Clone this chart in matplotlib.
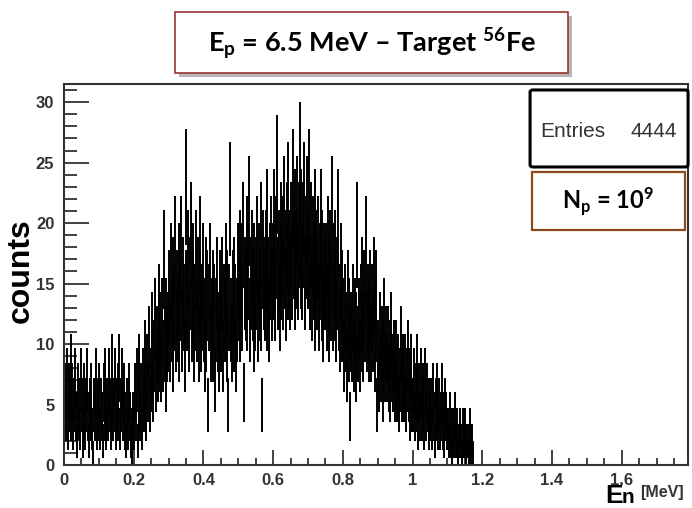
import numpy as np
import matplotlib
matplotlib.use("Agg")
import matplotlib.pyplot as plt
from matplotlib.patches import FancyBboxPatch
import matplotlib.patheffects as pe
from matplotlib.ticker import MultipleLocator

# bin width of the neutron energy histogram (MeV)
BIN_W = 0.0025

# counts per bin, from 0 MeV upwards
# (each row covers 0.025 MeV, the row start is in the comment)
counts = [
    9, 6, 4, 7, 3, 6, 5, 8, 4, 6,        # 0.000
    3, 5, 7, 4, 2, 6, 4, 5, 3, 7,        # 0.025
    5, 2, 4, 6, 3, 5, 7, 4, 2, 5,        # 0.050
    4, 6, 3, 1, 5, 4, 7, 3, 5, 4,        # 0.075
    6, 3, 5, 4, 2, 6, 4, 7, 3, 5,        # 0.100
    4, 7, 5, 3, 6, 8, 4, 5, 7, 3,        # 0.125
    5, 4, 6, 8, 3, 5, 7, 4, 6, 3,        # 0.150
    4, 2, 5, 3, 6, 4, 2, 3, 1, 4,        # 0.175
    3, 6, 4, 7, 2, 5, 8, 4, 6, 3,        # 0.200
    7, 5, 9, 6, 4, 8, 6, 10, 5, 7,       # 0.225
    8, 11, 6, 9, 12, 7, 10, 8, 13, 9,    # 0.250
    11, 8, 12, 9, 17, 10, 7, 12, 10, 11, # 0.275
    14, 10, 16, 12, 9, 15, 13, 18, 11, 14, # 0.300
    12, 16, 10, 14, 18, 11, 15, 13, 9, 14, # 0.325
    23, 13, 17, 11, 15, 19, 12, 14, 16, 10, # 0.350
    13, 17, 12, 15, 10, 14, 18, 11, 13, 16, # 0.375
    12, 9, 15, 11, 14, 5, 13, 16, 10, 12,  # 0.400
    14, 10, 13, 7, 12, 15, 11, 9, 14, 12,  # 0.425
    11, 15, 9, 13, 12, 16, 10, 14, 5, 13,  # 0.450
    22, 12, 10, 14, 11, 15, 13, 9, 12, 16, # 0.475
    14, 17, 12, 16, 13, 19, 6, 15, 14, 18, # 0.500
    13, 16, 21, 12, 15, 17, 14, 11, 16, 13, # 0.525
    15, 18, 12, 16, 14, 19, 13, 5, 17, 15, # 0.550
    14, 17, 13, 20, 15, 12, 16, 18, 14, 16, # 0.575
    16, 20, 14, 18, 24, 15, 17, 13, 19, 16, # 0.600
    18, 15, 21, 17, 14, 19, 16, 22, 17, 15, # 0.625
    19, 16, 23, 18, 15, 20, 17, 21, 16, 19, # 0.650
    25, 17, 20, 16, 19, 22, 15, 18, 21, 17, # 0.675
    17, 23, 15, 19, 14, 18, 16, 20, 13, 17, # 0.700
    15, 18, 13, 16, 20, 14, 17, 12, 16, 15, # 0.725
    16, 13, 18, 15, 12, 17, 14, 21, 13, 16, # 0.750
    14, 17, 12, 15, 20, 13, 11, 16, 14, 12, # 0.775
    12, 9, 13, 11, 8, 14, 10, 12, 4, 11,   # 0.800
    10, 13, 9, 12, 11, 8, 19, 10, 12, 9,   # 0.825
    13, 11, 15, 10, 14, 12, 18, 11, 13, 10, # 0.850
    12, 14, 10, 13, 11, 15, 9, 12, 14, 5,  # 0.875
    9, 7, 11, 8, 10, 6, 9, 12, 8, 10,      # 0.900
    8, 10, 7, 9, 6, 11, 8, 7, 9, 6,        # 0.925
    7, 9, 6, 8, 5, 7, 10, 6, 8, 7,         # 0.950
    6, 8, 5, 7, 9, 6, 4, 7, 8, 5,          # 0.975
    5, 7, 4, 6, 8, 5, 3, 6, 4, 7,          # 1.000
    4, 6, 5, 3, 7, 4, 6, 5, 3, 5,          # 1.025
    4, 5, 3, 6, 4, 2, 5, 4, 6, 3,          # 1.050
    5, 3, 4, 6, 3, 4, 2, 5, 4, 3,          # 1.075
    3, 2, 4, 2, 3, 1, 3, 2, 4, 2,          # 1.100
    2, 3, 1, 2, 3, 2, 1, 3, 2, 2,          # 1.125
    3, 1, 2, 2, 1, 3, 2, 1, 2, 1,          # 1.150
]

title_text = r"E$_{p}$ = 6.5 MeV – Target $^{56}$Fe"
entries_label = "Entries"
entries_value = "4444"
np_text = r"N$_{p}$ = 10$^{9}$"

plt.rcParams['mathtext.fontset'] = 'custom'
plt.rcParams['mathtext.rm'] = 'Lato:bold'
plt.rcParams['mathtext.bf'] = 'Lato:bold'
plt.rcParams['mathtext.default'] = 'bf'


def main():
    y = np.array(counts, dtype=float)
    x = (np.arange(len(y)) + 0.5) * BIN_W
    err = np.sqrt(y)

    fig = plt.figure(figsize=(6.92, 5.08), dpi=100)
    ax = fig.add_axes([0.0925, 0.0846, 0.9017, 0.75])

    ax.errorbar(x, y, yerr=err, xerr=BIN_W / 2, fmt='none', ecolor='black',
                elinewidth=1.4, capsize=0)

    ax.set_xlim(0, 1.79)
    ax.set_ylim(0, 31.5)
    ax.xaxis.set_minor_locator(MultipleLocator(0.05))
    ax.yaxis.set_major_locator(MultipleLocator(5))
    ax.yaxis.set_minor_locator(MultipleLocator(1))
    ax.set_xticks([0, 0.2, 0.4, 0.6, 0.8, 1.0, 1.2, 1.4, 1.6])
    ax.set_xticklabels(['0', '0.2', '0.4', '0.6', '0.8', '1', '1.2', '1.4', '1.6'])
    ax.tick_params(axis='both', which='both', direction='in', color='#333333',
                   width=1.3, top=False, right=False)
    ax.tick_params(axis='y', which='major', length=18, pad=7)
    ax.tick_params(axis='y', which='minor', length=9)
    ax.tick_params(axis='x', which='major', length=11, pad=6)
    ax.tick_params(axis='x', which='minor', length=5)
    for lab in ax.get_xticklabels() + ax.get_yticklabels():
        lab.set_fontfamily('Liberation Sans')
        lab.set_fontweight('bold')
        lab.set_fontsize(12)
        lab.set_color('#333333')
    for sp in ax.spines.values():
        sp.set_linewidth(1.5)
        sp.set_color('#333333')

    # axis titles in ROOT style
    fig.text(0.030, 0.468, "counts", rotation=90, ha='center', va='center',
             fontsize=23, fontweight='bold', family='Liberation Sans')
    fig.text(0.874, 0.010, "E", ha='left', va='baseline', fontsize=19,
             fontweight='bold', family='Liberation Sans')
    fig.text(0.898, 0.009, "n", ha='left', va='baseline', fontsize=15,
             fontweight='bold', family='Liberation Sans')
    fig.text(0.925, 0.022, "[MeV]", ha='left', va='baseline', fontsize=11.5,
             fontweight='bold', family='Liberation Sans', color='#333333')

    # title box with shadow
    tbox = FancyBboxPatch((0.2529, 0.8563), 0.568, 0.120, boxstyle='square,pad=0',
                          transform=fig.transFigure, facecolor='white',
                          edgecolor='#953735', linewidth=1.2,
                          path_effects=[pe.withSimplePatchShadow(offset=(3, -3),
                                                                 shadow_rgbFace='#888888',
                                                                 alpha=0.6)])
    fig.add_artist(tbox)
    fig.text(0.537, 0.914, title_text, ha='center', va='center', fontsize=19.5,
             family='Lato', fontweight='bold')

    # stats box
    sbox = FancyBboxPatch((0.766, 0.6713), 0.2283, 0.1516,
                          boxstyle='round,pad=0,rounding_size=0.004',
                          transform=fig.transFigure, facecolor='white',
                          edgecolor='black', linewidth=2.2)
    fig.add_artist(sbox)
    fig.text(0.780, 0.742, entries_label, ha='left', va='center', fontsize=15,
             family='Liberation Sans', color='#333333')
    fig.text(0.979, 0.742, entries_value, ha='right', va='center', fontsize=15,
             family='Liberation Sans', color='#333333')

    # number of protons box
    nbox = FancyBboxPatch((0.7688, 0.5472), 0.2211, 0.1142, boxstyle='square,pad=0',
                          transform=fig.transFigure, facecolor='white',
                          edgecolor='#8c4a1c', linewidth=1.6)
    fig.add_artist(nbox)
    fig.text(0.879, 0.604, np_text, ha='center', va='center', fontsize=17,
             family='Lato', fontweight='bold')

    fig.savefig("out.png", dpi=100)


if __name__ == "__main__":
    main()
